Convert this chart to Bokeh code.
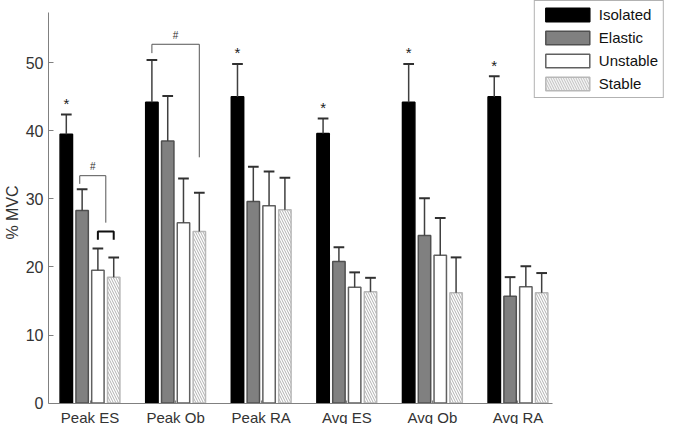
from bokeh.plotting import figure
from bokeh.models import Range1d, FixedTicker, Legend, LegendItem, ColumnDataSource
from bokeh.core.properties import value
from bokeh.embed import file_html
from bokeh.resources import INLINE

# ---- data ----
categories = ["Peak ES", "Peak Ob", "Peak RA", "Avg ES", "Avg Ob", "Avg RA"]
series = ["Isolated", "Elastic", "Unstable", "Stable"]
isolated = [39.5, 44.2, 45.0, 39.6, 44.2, 45.0]
isolated_sd = [2.9, 6.2, 4.8, 2.2, 5.6, 3.0]
elastic = [28.3, 38.5, 29.6, 20.8, 24.6, 15.7]
elastic_sd = [3.1, 6.6, 5.1, 2.1, 5.5, 2.8]
unstable = [19.5, 26.5, 29.0, 17.0, 21.7, 17.1]
unstable_sd = [3.2, 6.5, 5.0, 2.2, 5.5, 3.0]
stable = [18.5, 25.2, 28.4, 16.35, 16.2, 16.2]
stable_sd = [2.9, 5.7, 4.7, 2.05, 5.2, 2.9]
y_ticks = [0, 10, 20, 30, 40, 50]

# groups with "*" above the Isolated bar (1-based group index)
star_groups = [1, 3, 4, 5, 6]
# brackets: (group, left bar pos, right bar pos, top, left drop, right drop, label)
brackets = [
    (2, 0.0, 3.0, 52.7, 51.4, 36.1, "#"),
    (1, 0.85, 2.5, 33.4, 32.2, 26.5, "#"),
]
small_bracket = (1, 2.0, 3.0, 25.2, 24.0)

# ---- style / layout ----
FONT = "Liberation Sans"
offsets = [-0.277, -0.092, 0.092, 0.277]
bar_w = 0.145
cap_w = 0.125
fills = ["#000000", "#808080", "#ffffff", "#ffffff"]
lines = ["#000000", "#505050", "#606060", "#b8b8b8"]
hatches = [None, None, None, "left_diagonal_line"]

X_AXIS_END = 6.4
Y_AXIS_END = 57.4
p = figure(width=664, height=424, output_backend="svg", toolbar_location=None,
           x_range=Range1d(0.515, 7.712), y_range=Range1d(-3.144, 59.13),
           min_border_left=40, min_border_right=0, min_border_top=0,
           min_border_bottom=0)
p.outline_line_color = None
p.xgrid.visible = False
p.ygrid.visible = False
p.background_fill_color = "white"
p.border_fill_color = "white"

vals = [isolated, elastic, unstable, stable]
sds = [isolated_sd, elastic_sd, unstable_sd, stable_sd]
renderers = []
for k in range(4):
    xs = [i + 1 + offsets[k] for i in range(len(categories))]
    src = ColumnDataSource(dict(x=xs, top=vals[k]))
    kw = dict(fill_color=fills[k], line_color=lines[k], line_width=1.5)
    if hatches[k]:
        kw.update(hatch_pattern=hatches[k], hatch_color="#b0b0b0",
                  hatch_scale=5, hatch_weight=1)
    r = p.vbar(x="x", top="top", bottom=0, width=bar_w, source=src, **kw)
    renderers.append(r)
    ytop = [v + s for v, s in zip(vals[k], sds[k])]
    p.segment(x0=xs, y0=vals[k], x1=xs, y1=ytop, line_color="#404040", line_width=1.5)
    p.segment(x0=[x - cap_w / 2 for x in xs], y0=ytop,
              x1=[x + cap_w / 2 for x in xs], y1=ytop,
              line_color="#303030", line_width=2)

# stars
sx = [g + offsets[0] for g in star_groups]
sy = [isolated[g - 1] + isolated_sd[g - 1] + 0.4 for g in star_groups]
p.text(x=sx, y=sy, text=["*"] * len(sx), text_align="center", text_baseline="bottom",
       text_font=value(FONT), text_font_size="15px", text_color="#202020")

def bar_pos(g, b):
    i = int(b)
    f = b - i
    if i >= 3:
        return g + offsets[3]
    return g + offsets[i] + f * (offsets[i + 1] - offsets[i])

for g, bl, br, top, dl, dr, lab in brackets:
    xl, xr = bar_pos(g, bl), bar_pos(g, br)
    p.line(x=[xl, xl, xr, xr], y=[dl, top, top, dr], line_color="#555555", line_width=1)
    p.text(x=[(xl + xr) / 2], y=[top + 0.5], text=[lab], text_align="center",
           text_baseline="bottom", text_font=value(FONT), text_font_size="10px",
           text_color="#303030")

g, bl, br, top, dr = small_bracket
xl, xr = bar_pos(g, bl), bar_pos(g, br)
p.line(x=[xl, xl, xr, xr], y=[dr, top, top, dr], line_color="#101010", line_width=2)

# category labels under the axis line
p.text(x=list(range(1, len(categories) + 1)), y=[-2.17] * len(categories), text=categories,
       text_align="center", text_baseline="alphabetic", text_font=value(FONT),
       text_font_size="15px", text_color="#333333")

# axes
for ax in (p.xaxis[0], p.yaxis[0]):
    ax.axis_line_color = "#808080"
    ax.major_tick_line_color = "#808080"
    ax.minor_tick_line_color = None
    ax.major_tick_out = 0
    ax.major_label_text_font = FONT
    ax.major_label_text_color = "#333333"

# x axis: line plus short inner ticks at each group (no axis text; labels drawn above)
p.xaxis.ticker = FixedTicker(ticks=[], minor_ticks=list(range(1, len(categories) + 1)))
p.xaxis.fixed_location = 0
p.xaxis.bounds = (0.515, X_AXIS_END)
p.xaxis.minor_tick_line_color = "#808080"
p.xaxis.minor_tick_in = 3
p.xaxis.minor_tick_out = 0
p.xaxis.major_label_standoff = 0
p.xaxis.axis_label_standoff = 0

p.yaxis.ticker = FixedTicker(ticks=y_ticks)
p.yaxis.bounds = (0, Y_AXIS_END)
p.yaxis.major_tick_in = 5
p.yaxis.major_label_text_font_size = "16px"
p.yaxis.major_label_standoff = 5
p.yaxis.axis_label = "% MVC"
p.yaxis.axis_label_text_font = FONT
p.yaxis.axis_label_text_font_size = "16px"
p.yaxis.axis_label_text_font_style = "normal"
p.yaxis.axis_label_text_color = "#333333"
p.yaxis.axis_label_standoff = 2

legend = Legend(items=[LegendItem(label=s, renderers=[r]) for s, r in zip(series, renderers)],
                location="top_right", glyph_width=55, glyph_height=17, label_height=17,
                spacing=6, padding=5, margin=0, label_standoff=4,
                label_text_font=FONT, label_text_font_size="15px", label_text_color="#111111",
                border_line_color="#666666", border_line_width=1,
                background_fill_color="white", background_fill_alpha=1.0)
p.add_layout(legend, "center")

open("out.html", "w").write(file_html(p, INLINE))
